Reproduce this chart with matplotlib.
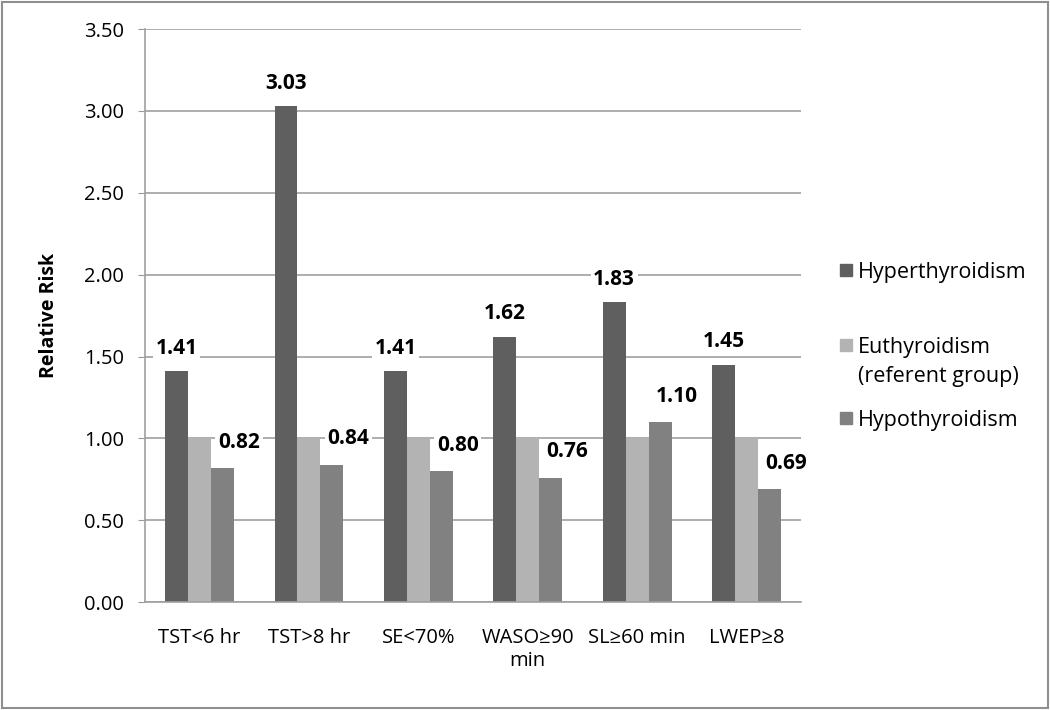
import numpy as np
import matplotlib.pyplot as plt
from matplotlib.patches import Rectangle

plt.rcParams['font.family'] = ['Open Sans', 'DejaVu Sans']

categories = ["TST<6 hr", "TST>8 hr", "SE<70%", "WASO≥90\nmin", "SL≥60 min", "LWEP≥8"]
hyper = [1.41, 3.03, 1.41, 1.62, 1.83, 1.45]
euthy = [1.00, 1.00, 1.00, 1.00, 1.00, 1.00]
hypo = [0.82, 0.84, 0.80, 0.76, 1.10, 0.69]
series_names = ["Hyperthyroidism", "Euthyroidism\n(referent group)", "Hypothyroidism"]
colors = ["#5f5f5f", "#b3b3b3", "#818181"]

fig = plt.figure(figsize=(10.5, 7.1), dpi=100)
ax = fig.add_axes([0.138, 0.152, 0.625, 0.807])

x = np.arange(len(categories))
w = 0.21
ax.bar(x - w, hyper, w, color=colors[0], label=series_names[0], zorder=2)
ax.bar(x, euthy, w, color=colors[1], label=series_names[1], zorder=2)
ax.bar(x + w, hypo, w, color=colors[2], label=series_names[2], zorder=2)

box = dict(facecolor="white", edgecolor="none", pad=2)
for xi, v in zip(x - w, hyper):
    ax.annotate(f"{v:.2f}", (xi, v), xytext=(0, 9), textcoords="offset points",
                ha="center", va="bottom", fontsize=15, fontweight="bold", bbox=box, zorder=3)
for xi, v in zip(x + w, hypo):
    ax.annotate(f"{v:.2f}", (xi + 0.15, v), xytext=(0, 11), textcoords="offset points",
                ha="center", va="bottom", fontsize=15, fontweight="bold", bbox=box, zorder=3)

ax.set_xlim(-0.5, len(categories) - 0.5)
ax.set_ylim(0, 3.5)
ticks = np.arange(0, 3.51, 0.5)
ax.set_yticks(ticks)
ax.set_yticklabels([f"{t:.2f}" for t in ticks])
ax.set_xticks(x)
ax.set_xticklabels(categories)
ax.tick_params(axis="x", length=0, pad=19, labelsize=14.5)
ax.tick_params(axis="y", length=5, color="#999999", labelsize=14.5, pad=10)
ax.grid(axis="y", color="#9f9f9f", linewidth=1.2, zorder=0)
ax.set_axisbelow(True)
for s in ["top", "right"]:
    ax.spines[s].set_visible(False)
for s in ["left", "bottom"]:
    ax.spines[s].set_color("#9f9f9f")
    ax.spines[s].set_linewidth(1.2)
ax.set_ylabel("Relative Risk", fontsize=14, fontweight="bold", labelpad=18)

# legend like Excel: square on the first text line
W, H = 1050, 710
legend_y = [270, 345, 418]  # pixel rows of first text line
for name, c, py in zip(series_names, colors, legend_y):
    fig.patches.append(Rectangle((840 / W, 1 - (py + 6) / H), 12 / W, 12 / H,
                                 transform=fig.transFigure, color=c))
    fig.text(858 / W, 1 - (py - 8) / H, name, fontsize=15.5, va="top", ha="left",
             linespacing=1.5)

fig.patches.append(Rectangle((0.002, 0.003), 0.996, 0.994, transform=fig.transFigure,
                             fill=False, edgecolor="#8f8f8f", linewidth=1.5))

fig.savefig("out.png", dpi=100)
